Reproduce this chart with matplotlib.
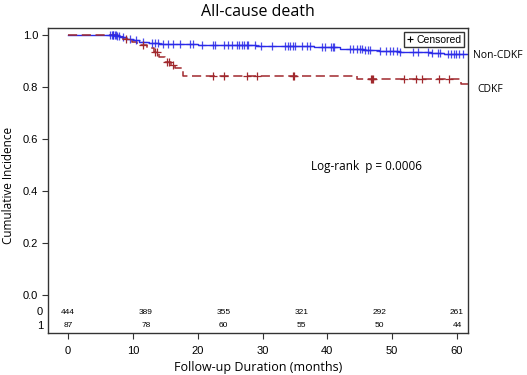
import numpy as np
import matplotlib
matplotlib.use("Agg")
import matplotlib.pyplot as plt
from matplotlib.lines import Line2D
from matplotlib import transforms

# ---- data ----
noncdkf_times = [0, 7.5, 8.0, 9.0, 10.0, 11.0, 12.5, 14.0, 20.0, 29.0, 38.0, 42.0, 45.5, 48.0, 51.0, 56.0, 58.0, 62.0]
noncdkf_surv  = [1.0, 0.996, 0.991, 0.986, 0.979, 0.973, 0.969, 0.965, 0.962, 0.958, 0.953, 0.948, 0.942, 0.937, 0.933, 0.929, 0.926, 0.926]
noncdkf_cens = [6.5, 6.7, 6.9, 7.0, 7.2, 7.4, 7.6, 7.8, 8.5, 9.5, 10.5, 11.5, 13.0, 13.4, 13.9, 14.6, 15.4, 16.2,
                17.3, 18.8, 19.3, 20.7, 22.4, 22.6, 24.0, 24.7, 25.3, 26.0, 26.4, 26.8, 27.2, 27.6, 27.8, 28.9,
                29.8, 31.5, 33.5, 33.9, 34.3, 34.7, 35.0, 36.1, 36.9, 37.3, 39.2, 39.7, 40.5, 40.9, 41.0,
                43.5, 44.0, 44.6, 45.0, 45.4, 45.8, 46.2, 46.6, 48.1, 49.0, 49.6, 50.2, 50.7, 51.2, 53.2, 54.0,
                55.6, 56.2, 57.0, 57.4, 58.6, 59.1, 59.5, 59.9, 60.3, 61.0]

cdkf_times = [0, 8.3, 8.5, 9.8, 10.6, 12.2, 13.2, 14.0, 15.0, 15.8, 16.5, 17.7, 44.6, 60.6, 62.0]
cdkf_surv  = [1.0, 0.994, 0.985, 0.972, 0.962, 0.951, 0.936, 0.914, 0.897, 0.885, 0.872, 0.844, 0.831, 0.810, 0.810]
cdkf_cens = [9.0, 11.5, 13.4, 13.7, 15.2, 15.5, 16.2, 22.4, 24.0, 27.6, 29.2, 34.7, 34.9,
             46.7, 46.9, 47.1, 51.8, 53.6, 54.6, 57.2, 58.7]

risk_times = [0, 12, 24, 36, 48, 60]
risk_non = [444, 389, 355, 321, 292, 261]
risk_cdkf = [87, 78, 60, 55, 50, 44]

def step_val(times, surv, t):
    idx = np.searchsorted(times, t, side="right") - 1
    return np.asarray(surv)[idx]

fig = plt.figure(figsize=(5.27, 3.75), dpi=100)
ax = fig.add_axes([48/527, 42/375, 420/527, 305/375])

tickfont = ["Liberation Sans Narrow", "Liberation Sans", "DejaVu Sans"]
labfont = ["Open Sans", "DejaVu Sans"]

blue = "#2a2ae8"
red = "#a0282d"

ax.step(noncdkf_times, noncdkf_surv, where="post", color=blue, lw=1.0)
ax.step(cdkf_times, cdkf_surv, where="post", color=red, lw=1.1, dashes=(6, 3))
ax.plot(noncdkf_cens, step_val(noncdkf_times, noncdkf_surv, noncdkf_cens), linestyle="none",
        marker="+", color=blue, ms=6, mew=0.9, alpha=0.85)
ax.plot(cdkf_cens, step_val(cdkf_times, cdkf_surv, cdkf_cens), linestyle="none",
        marker="+", color=red, ms=6, mew=0.9)

ax.set_xlim(-3.1, 61.7)
ax.set_ylim(-0.146, 1.027)
ax.set_xticks([0, 10, 20, 30, 40, 50, 60])
ax.set_yticks([0.0, 0.2, 0.4, 0.6, 0.8, 1.0])
ax.set_yticklabels(["0.0", "0.2", "0.4", "0.6", "0.8", "1.0"])
for lab in ax.get_xticklabels() + ax.get_yticklabels():
    lab.set_fontfamily(tickfont)
    lab.set_fontsize(8)
ax.tick_params(length=4, width=0.8, color="#333333", pad=3)
ax.tick_params(axis="x", pad=5)
for s in ax.spines.values():
    s.set_linewidth(1.0)
    s.set_color("#333333")

# risk table
for t, n in zip(risk_times, risk_non):
    ax.text(t, -0.067, str(n), ha="center", va="center", fontsize=6, family=tickfont)
for t, n in zip(risk_times, risk_cdkf):
    ax.text(t, -0.118, str(n), ha="center", va="center", fontsize=6, family=tickfont)
trans = transforms.blended_transform_factory(ax.transAxes, ax.transData)
ax.text(-0.012, -0.067, "0", ha="right", va="center", fontsize=8, family=tickfont, transform=trans)
ax.text(-0.012, -0.118, "1", ha="right", va="center", fontsize=8, family=tickfont, transform=trans)

ax.text(37.5, 0.495, "Log-rank  p = 0.0006", ha="left", va="center", fontsize=8.5, family=labfont)

ax.text(1.012, 0.92, "Non-CDKF", ha="left", va="center", fontsize=7.5, family=labfont, transform=trans, clip_on=False)
ax.text(1.022, 0.79, "CDKF", ha="left", va="center", fontsize=7.5, family=labfont, transform=trans, clip_on=False)

leg = ax.legend(handles=[Line2D([], [], marker="+", color="k", linestyle="none", ms=4, mew=0.8)],
                labels=["Censored"], loc="upper right", fancybox=False, edgecolor="#333333",
                prop={"family": tickfont, "size": 7.5}, handlelength=0.6, handletextpad=0.3,
                borderpad=0.25, borderaxespad=0.4, framealpha=1)
leg.get_frame().set_linewidth(1.0)

ax.set_xlabel("Follow-up Duration (months)", fontsize=9, family=labfont, labelpad=4)
fig.text(9/527, 1 - 185/375, "Cumulative Incidence", rotation=90, ha="center", va="center",
         fontsize=8.5, family=labfont)
fig.text(258/527, 1 - 12/375, "All-cause death", ha="center", va="center", fontsize=11.5, family=labfont)

fig.savefig("out.png", dpi=100)
